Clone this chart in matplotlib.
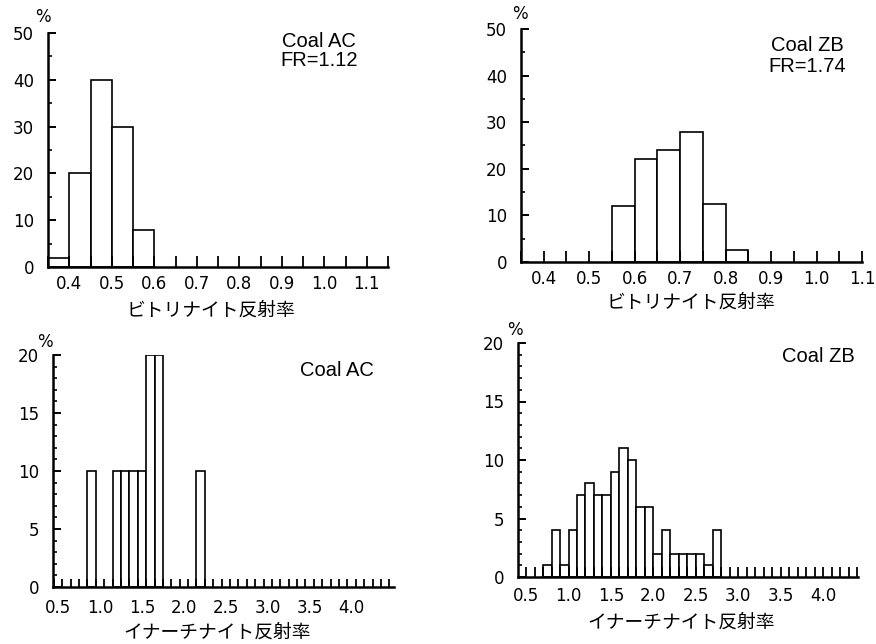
import numpy as np
import matplotlib.pyplot as plt
from matplotlib.ticker import FixedLocator, MultipleLocator

W, H = 876, 644

# vitrinite reflectance histograms: bin left edge, frequency (%)
vit_ac_bins = [0.35, 0.40, 0.45, 0.50, 0.55]
vit_ac_pct = [2, 20, 40, 30, 8]
vit_zb_bins = [0.55, 0.60, 0.65, 0.70, 0.75, 0.80]
vit_zb_pct = [12, 22, 24, 28, 12.5, 2.5]
vit_ticks = [0.4, 0.5, 0.6, 0.7, 0.8, 0.9, 1.0, 1.1]
vit_labels = ['0.4', '0.5', '0.6', '0.7', '0.8', '0.9', '1.0', '1.1']

# inertinite reflectance histograms
int_ac_bins = [0.85, 1.15, 1.25, 1.35, 1.45, 1.55, 1.65, 2.15]
int_ac_pct = [10, 10, 10, 10, 10, 20, 20, 10]
int_zb_bins = [0.7, 0.8, 0.9, 1.0, 1.1, 1.2, 1.3, 1.4, 1.5, 1.6, 1.7,
               1.8, 1.9, 2.0, 2.1, 2.2, 2.3, 2.4, 2.5, 2.6, 2.7]
int_zb_pct = [1, 4, 1, 4, 7, 8, 7, 7, 9, 11, 10,
              6, 6, 2, 4, 2, 2, 2, 2, 1, 4]
int_ticks = [0.5, 1.0, 1.5, 2.0, 2.5, 3.0, 3.5, 4.0]
int_labels = ['0.5', '1.0', '1.5', '2.0', '2.5', '3.0', '3.5', '4.0']

vit_xlabel = 'ビトリナイト反射率'
int_xlabel = 'イナーチナイト反射率'
JP = ['Noto Sans CJK JP', 'DejaVu Sans']
SANS = ['Liberation Sans', 'DejaVu Sans']


def px_axes(left, right, top, bottom):
    # axes rectangle from pixel edges (y measured from the top)
    return fig.add_axes([left / W, 1 - bottom / H, (right - left) / W, (bottom - top) / H])


def ftext(x, y, s, **kw):
    fig.text(x / W, 1 - y / H, s, **kw)


def name(x, y, s, spacing=1.0):
    # panel caption centred on (x, y) in pixels
    ftext(x, y, s, family=SANS, fontsize=14.5, ha='center', va='center',
          multialignment='center', linespacing=spacing)


def style(ax, xlim, ylim, ymaj, ymin, xlen, xpad):
    ax.set_xlim(*xlim)
    ax.set_ylim(*ylim)
    for s in ['top', 'right']:
        ax.spines[s].set_visible(False)
    for s in ['left', 'bottom']:
        ax.spines[s].set_linewidth(1.8)
    ax.yaxis.set_major_locator(MultipleLocator(ymaj))
    ax.yaxis.set_minor_locator(MultipleLocator(ymin))
    ax.tick_params(axis='y', which='major', direction='in', length=6, width=1.4,
                   pad=10, labelsize=12)
    ax.tick_params(axis='y', which='minor', direction='in', length=3, width=1.2)
    ax.tick_params(axis='x', which='both', direction='in', length=xlen, width=1.3,
                   pad=xpad, labelsize=12)


fig = plt.figure(figsize=(W / 100, H / 100), dpi=100)
bar_kw = dict(align='edge', facecolor='white', edgecolor='black', linewidth=1.2)

# top left: vitrinite, coal AC
ax1 = px_axes(48, 388, 33, 267)
ax1.bar(vit_ac_bins, vit_ac_pct, width=0.05, **bar_kw)
style(ax1, (0.35, 1.15), (0, 50), 10, 5, 8, 6)
ax1.xaxis.set_major_locator(FixedLocator(vit_ticks))
ax1.set_xticklabels(vit_labels)
ax1.xaxis.set_minor_locator(MultipleLocator(0.05))
ftext(43, 17, '%', fontsize=12, ha='center', va='center')
name(319, 51, 'Coal AC\nFR=1.12', spacing=0.95)
ftext(211, 310, vit_xlabel, family=JP, fontsize=13.5, ha='center', va='center')

# top right: vitrinite, coal ZB
ax2 = px_axes(521, 862, 29, 262)
ax2.bar(vit_zb_bins, vit_zb_pct, width=0.05, **bar_kw)
style(ax2, (0.35, 1.10), (0, 50), 10, 5, 8, 5.5)
ax2.xaxis.set_major_locator(FixedLocator(vit_ticks))
ax2.set_xticklabels(vit_labels)
ax2.xaxis.set_minor_locator(MultipleLocator(0.05))
ftext(520, 14, '%', fontsize=12, ha='center', va='center')
name(807, 56, 'Coal ZB\nFR=1.74', spacing=1.15)
ftext(691, 302, vit_xlabel, family=JP, fontsize=13.5, ha='center', va='center')

# bottom left: inertinite, coal AC
ax3 = px_axes(53, 394, 355, 587)
ax3.bar(int_ac_bins, int_ac_pct, width=0.1, **bar_kw)
style(ax3, (0.44, 4.505), (0, 20), 5, 1, 6, 8.5)
ax3.xaxis.set_major_locator(FixedLocator(int_ticks))
ax3.set_xticklabels(int_labels)
ax3.xaxis.set_minor_locator(MultipleLocator(0.1, offset=0.05))
ax3.tick_params(axis='x', which='major', length=0)
ftext(45, 342, '%', fontsize=12, ha='center', va='center')
name(337, 370, 'Coal AC')
ftext(217, 632, int_xlabel, family=JP, fontsize=13.5, ha='center', va='center')

# bottom right: inertinite, coal ZB
ax4 = px_axes(518, 858, 343, 577)
ax4.bar(int_zb_bins, int_zb_pct, width=0.1, **bar_kw)
style(ax4, (0.405, 4.41), (0, 20), 5, 1, 7, 7.5)
ax4.xaxis.set_major_locator(FixedLocator(int_ticks))
ax4.set_xticklabels(int_labels)
ax4.xaxis.set_minor_locator(MultipleLocator(0.1))
ftext(515, 330, '%', fontsize=12, ha='center', va='center')
name(818, 356, 'Coal ZB')
ftext(681, 622, int_xlabel, family=JP, fontsize=13.5, ha='center', va='center')

fig.savefig('out.png', dpi=100)
